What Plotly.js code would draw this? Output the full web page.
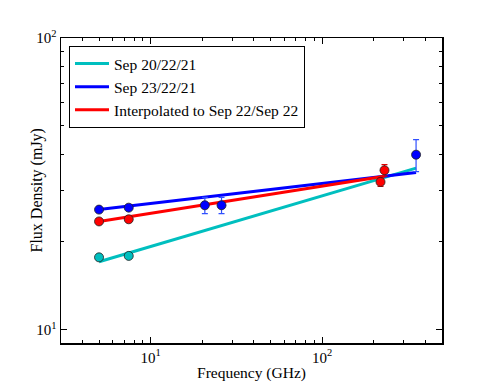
<!DOCTYPE html>
<html><head><meta charset="utf-8">
<script src="https://cdn.plot.ly/plotly-3.0.1.min.js"></script>
<style>html,body{margin:0;padding:0;background:#fff}#c{width:491px;height:382px}</style>
</head><body><div id="c"></div>
<script>
// Measured points
const cyanFreq = [5, 7.45];
const cyanFlux = [17.7, 17.9];
const blueFreq = [5, 7.45, 20.7, 25.9, 353];
const blueFlux = [25.8, 26.2, 26.7, 26.7, 39.8];
const blueErr = [0, 0, 1.7, 1.7, 5.0];
const redFreq = [5, 7.45, 219, 231];
const redFlux = [23.5, 23.9, 32.1, 35.2];
const redErr = [0, 0, 1.1, 1.6];
// Power-law fit lines (end points)
const cyanFitFreq = [5, 353];
const cyanFitFlux = [17.1, 35.8];
const blueFitFreq = [5, 353];
const blueFitFlux = [25.8, 34.6];
const redFitFreq = [5, 231];
const redFitFlux = [23.5, 33.6];
const seriesNames = ['Sep 20/22/21', 'Sep 23/22/21', 'Interpolated to Sep 22/Sep 22'];
// Tick labels and titles
const majorTicks = [10, 100];
const majorLabels = ['10<sup>1</sup>', '10<sup>2</sup>'];
const xMinor = [4, 5, 6, 7, 8, 9, 20, 30, 40, 50, 60, 70, 80, 90, 200, 300, 400];
const yMinor = [9, 20, 30, 40, 50, 60, 70, 80, 90];
const xTitle = 'Frequency (GHz)';
const yTitle = 'Flux Density (mJy)';

const C = '#00bfbf', B = '#0000ff', R = '#ff0000';
const font = 'Liberation Serif';
function line(x, y, c, n) {
  return {x, y, mode: 'lines', name: n, line: {color: c, width: 3}, hoverinfo: 'skip'};
}
function pts(x, y, e, c, ec) {
  return {x, y, mode: 'markers', showlegend: false,
    marker: {color: c, size: 9, line: {color: '#202020', width: 0.8}},
    error_y: e ? {type: 'data', array: e, visible: true, color: ec, thickness: 1.2, width: 3} : undefined};
}
const data = [
  line(cyanFitFreq, cyanFitFlux, C, seriesNames[0]),
  line(blueFitFreq, blueFitFlux, B, seriesNames[1]),
  line(redFitFreq, redFitFlux, R, seriesNames[2]),
  pts(cyanFreq, cyanFlux, null, C),
  pts(blueFreq, blueFlux, blueErr, B, '#3050ff'),
  pts(redFreq, redFlux, redErr, R, '#e00000')
];
function ax(minor) {
  return {
    type: 'log', tickmode: 'array', tickvals: majorTicks, ticktext: majorLabels,
    showgrid: false, zeroline: false,
    ticks: 'inside', ticklen: 6, tickwidth: 1, tickcolor: '#000', mirror: 'allticks',
    showline: true, linecolor: '#000', linewidth: 1.5,
    tickfont: {family: font, size: 15, color: '#000'},
    minor: {ticks: 'inside', ticklen: 3, tickwidth: 1, tickcolor: '#000',
      tickmode: 'array', tickvals: minor, showgrid: false}
  };
}
const layout = {
  width: 491, height: 382,
  margin: {l: 61, r: 49, t: 38, b: 39},
  paper_bgcolor: '#fff', plot_bgcolor: '#fff',
  font: {family: font, color: '#000', size: 15},
  xaxis: Object.assign(ax(xMinor), {range: [Math.log10(3), Math.log10(500)],
    title: {text: xTitle, font: {family: font, size: 15.5}, standoff: 2}}),
  yaxis: Object.assign(ax(yMinor), {range: [Math.log10(9), 2]}),
  annotations: [{text: yTitle, textangle: -90, xref: 'paper', yref: 'paper',
    x: -0.063, y: 0.5, xanchor: 'center', yanchor: 'middle', showarrow: false,
    font: {family: font, size: 16, color: '#000'}}],
  showlegend: true,
  legend: {x: 0.021, y: 0.974, xanchor: 'left', yanchor: 'top', bgcolor: '#fff',
    itemwidth: 34,
    bordercolor: '#000', borderwidth: 1, font: {family: font, size: 15.5, color: '#000'}}
};
Plotly.newPlot('c', data, layout, {staticPlot: true, displayModeBar: false});
</script></body></html>
